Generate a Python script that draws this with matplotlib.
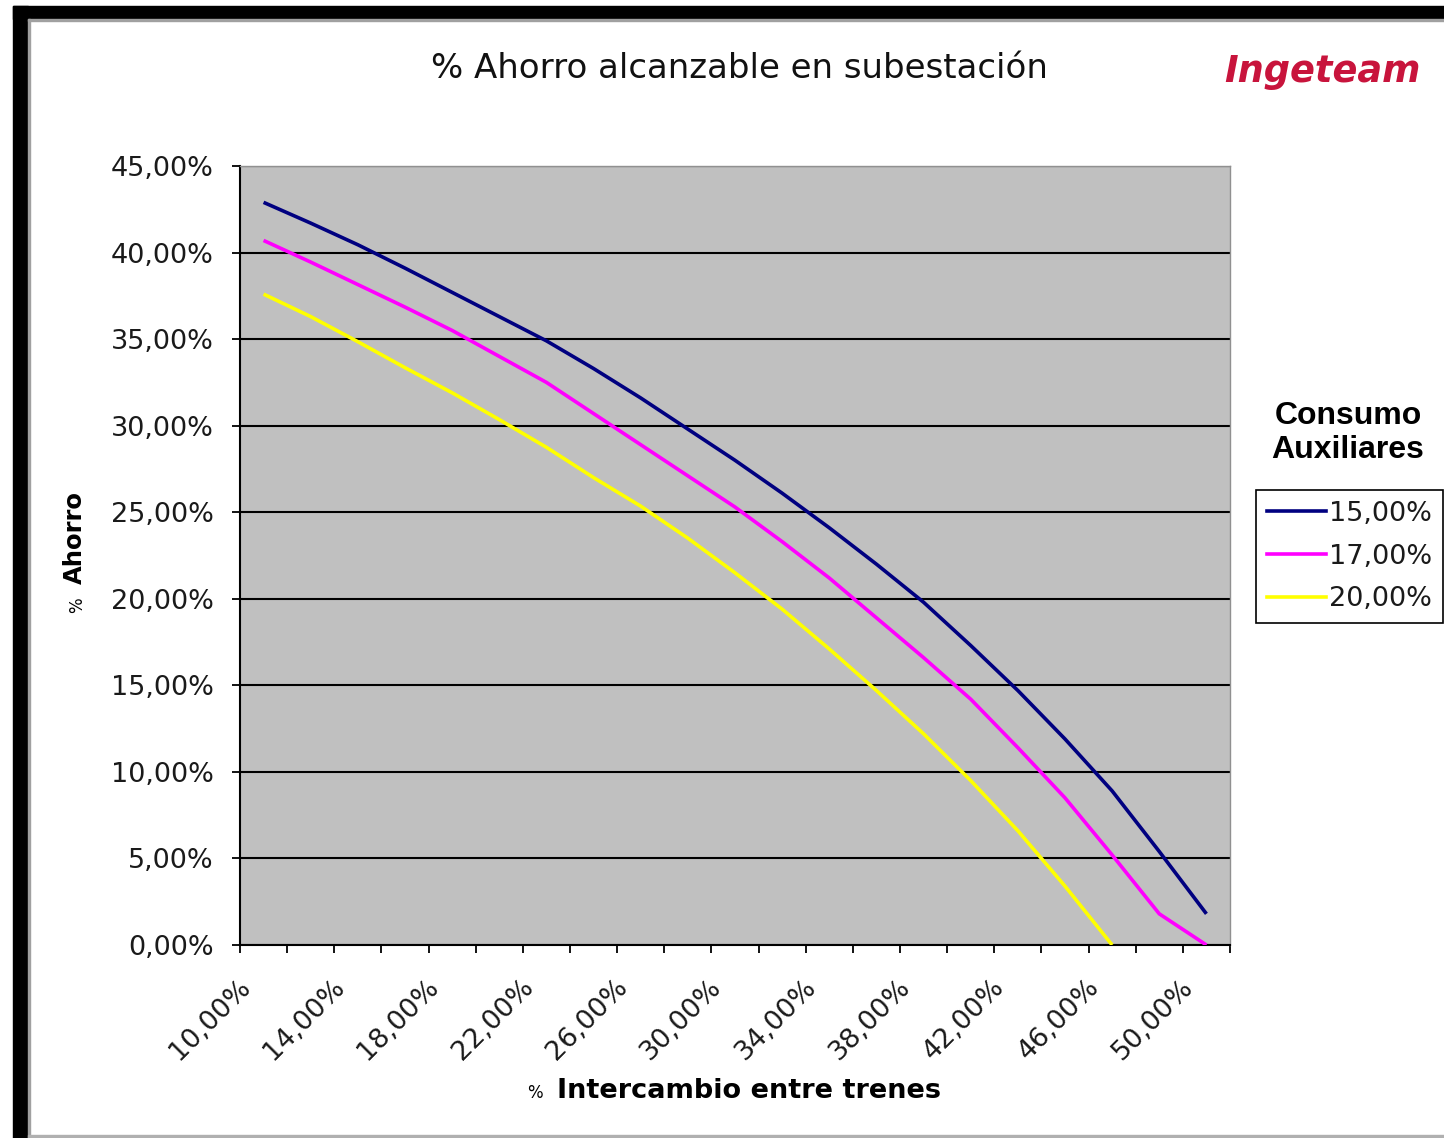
import numpy as np
import matplotlib.pyplot as plt
import matplotlib.transforms as mtransforms
from matplotlib.patches import Rectangle
from matplotlib.lines import Line2D
from matplotlib.ticker import FixedLocator, FuncFormatter, NullFormatter

# % intercambio entre trenes (categorias del eje X)
categories = [10, 12, 14, 16, 18, 20, 22, 24, 26, 28, 30,
              32, 34, 36, 38, 40, 42, 44, 46, 48, 50]

# % ahorro alcanzable para cada consumo de auxiliares
ahorro_15 = [42.9, 41.7, 40.45, 39.1, 37.7, 36.3, 34.9, 33.3, 31.6, 29.8, 28.0,
             26.1, 24.1, 22.0, 19.8, 17.3, 14.7, 11.9, 8.9, 5.4, 1.8]
ahorro_17 = [40.7, 39.45, 38.15, 36.85, 35.5, 34.0, 32.5, 30.7, 28.9, 27.1, 25.3,
             23.3, 21.2, 18.9, 16.6, 14.2, 11.4, 8.5, 5.2, 1.8, 0.0]
ahorro_20 = [37.6, 36.3, 34.85, 33.35, 31.9, 30.35, 28.75, 27.0, 25.35, 23.5, 21.5,
             19.4, 17.1, 14.7, 12.2, 9.5, 6.6, 3.4, 0.0, np.nan, np.nan]

series_labels = ["15,00%", "17,00%", "20,00%"]
series_colors = ["#000080", "#ff00ff", "#ffff00"]

y_ticks = [0, 5, 10, 15, 20, 25, 30, 35, 40, 45]


def pct(v, pos=None):
    return "{:.2f}%".format(v).replace(".", ",")


W, H = 1444, 1138
fig = plt.figure(figsize=(W / 100, H / 100), dpi=100)
fig.patch.set_facecolor("white")

# marco negro de la captura
def px_rect(x0, y0, x1, y1, color):
    fig.patches.append(Rectangle((x0 / W, 1 - y1 / H), (x1 - x0) / W, (y1 - y0) / H,
                                 transform=fig.transFigure, color=color, zorder=0))

px_rect(13, 6, W, 19, "black")
px_rect(13, 6, 28, H, "black")
px_rect(28, 19, W, 21, "#a0a0a0")
px_rect(28, 19, 30, H, "#a0a0a0")
px_rect(28, H - 3, W, H, "#b0b0b0")

ax = fig.add_axes([240 / W, 1 - 945 / H, 990 / W, 779 / H])
ax.set_facecolor("#c0c0c0")

x = np.arange(len(categories))
for vals, lab, col in zip([ahorro_15, ahorro_17, ahorro_20], series_labels, series_colors):
    ax.plot(x, vals, color=col, lw=2.6, label=lab, solid_capstyle="butt", zorder=3)

ax.set_xlim(-0.5, len(categories) - 0.5)
ax.set_ylim(0, 45)

ax.yaxis.set_major_locator(FixedLocator(y_ticks))
ax.yaxis.set_major_formatter(FuncFormatter(pct))
ax.grid(axis="y", color="black", lw=1.5, zorder=1)
ax.set_axisbelow(True)

# etiquetas cada dos categorias, marcas entre categorias
ax.xaxis.set_major_locator(FixedLocator(x[::2]))
ax.set_xticklabels([pct(c) for c in categories[::2]])
ax.xaxis.set_minor_locator(FixedLocator(np.arange(len(categories) + 1) - 0.5))
ax.xaxis.set_minor_formatter(NullFormatter())
ax.tick_params(axis="x", which="major", length=0, pad=20)
ax.tick_params(axis="x", which="minor", length=6, width=1.3, direction="out", color="black")
ax.tick_params(axis="y", length=6, width=1.3, direction="out", pad=13)

shift = mtransforms.ScaledTranslation(-17 / 100, -10 / 100, fig.dpi_scale_trans)
for t in ax.get_xticklabels():
    t.set_rotation(45)
    t.set_ha("right")
    t.set_va("center")
    t.set_rotation_mode("anchor")
    t.set_transform(t.get_transform() + shift)
for t in ax.get_xticklabels() + ax.get_yticklabels():
    t.set_fontsize(19.5)
    t.set_color("#1a1a1a")

for side in ["left", "bottom"]:
    ax.spines[side].set_color("black")
    ax.spines[side].set_linewidth(1.5)
for side in ["top", "right"]:
    ax.spines[side].set_color("#909090")
    ax.spines[side].set_linewidth(1.0)

# titulos
fig.text(739 / W, 1 - 69 / H, "% Ahorro alcanzable en subestación",
         ha="center", va="center", fontsize=24.5, color="#111111")
fig.text(1322 / W, 1 - 72 / H, "Ingeteam", ha="center", va="center",
         fontsize=26.5, fontweight="bold", style="italic", color="#c8143c")

fig.text(77 / W, 1 - 605 / H, "%", rotation=90, ha="center", va="center", fontsize=12)
fig.text(75 / W, 1 - 538 / H, "Ahorro", rotation=90, ha="center", va="center",
         fontsize=17.5, fontweight="bold")
fig.text(535 / W, 1 - 1093 / H, "%", ha="center", va="center", fontsize=12)
fig.text(749 / W, 1 - 1091 / H, "Intercambio entre trenes", ha="center", va="center",
         fontsize=19.5, fontweight="bold")

# leyenda
fig.text(1348 / W, 1 - 433 / H, "Consumo\nAuxiliares", ha="center", va="center",
         fontsize=23, fontweight="bold", family="Liberation Sans", linespacing=1.2)
handles = [Line2D([], [], color=c, lw=2.6) for c in series_colors]
leg = fig.legend(handles, series_labels, loc="upper right",
                 bbox_to_anchor=(1443 / W, 1 - 490 / H), frameon=True, fancybox=False,
                 framealpha=1, edgecolor="black", borderaxespad=0, fontsize=19.5,
                 handlelength=2.2, handletextpad=0.1, labelspacing=0.62,
                 borderpad=0.4)
leg.get_frame().set_linewidth(1.2)
for t in leg.get_texts():
    t.set_color("#1a1a1a")

fig.savefig("out.png", dpi=100)
